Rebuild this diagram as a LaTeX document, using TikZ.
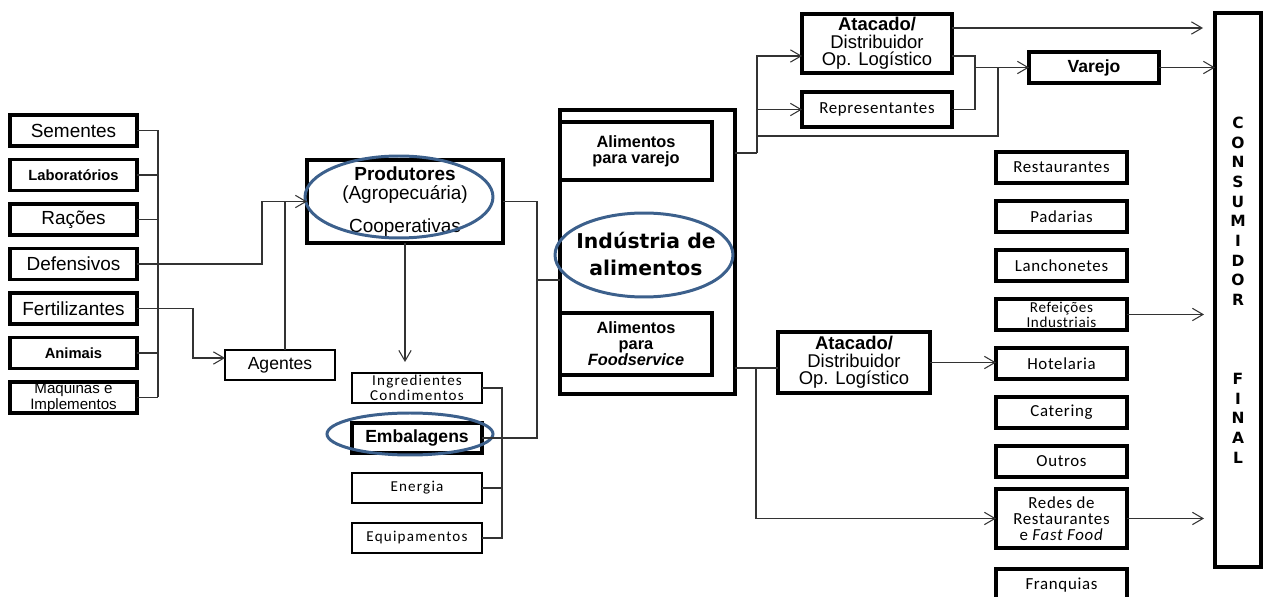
\documentclass[tikz,border=0pt]{standalone}
\usepackage{fontspec}
\setmainfont{Liberation Sans}
\newfontfamily\calfont[LetterSpace=4]{Carlito}
\newfontfamily\calwide[LetterSpace=8]{Carlito}
\newfontfamily\verdfont{DejaVu Sans}
\usetikzlibrary{positioning,arrows.meta}
\definecolor{ovalblue}{RGB}{60,96,140}
\tikzset{
    box/.style = {
        draw,
        line width=1.8pt,
        inner sep=0pt,
        outer sep=0pt,
        align=center,
        },
    thin box/.style = {
        box,
        line width=1.4pt,
        },
    wh/.style 2 args = {
        minimum width=#1*0.02cm,
        minimum height=#2*0.02cm,
        },
    link/.style = {
        draw=black!80,
        line width=0.6pt,
        },
    flow/.style = {
        link,
        -{Straight Barb[length=6pt,width=7pt]},
        },
    ring/.style = {
        draw=ovalblue,
        line width=1.7pt,
        },
    bigtxt/.style = {font=\fontsize{10.8pt}{11.3pt}\selectfont},
    boldsmall/.style = {font=\bfseries\fontsize{8.4pt}{8pt}\selectfont},
    smalltxt/.style = {font=\fontsize{8.6pt}{8pt}\selectfont},
    agtxt/.style = {font=\fontsize{10pt}{11pt}\selectfont},
    atatxt/.style = {font=\fontsize{10.5pt}{9.9pt}\selectfont},
    alimtxt/.style = {font=\bfseries\fontsize{9.3pt}{9.1pt}\selectfont},
    indtxt/.style = {font=\verdfont\bfseries\fontsize{11.6pt}{15.3pt}\selectfont, align=center},
    instxt/.style = {font=\calwide\fontsize{8.6pt}{8.5pt}\selectfont},
    coltxt/.style = {font=\calfont\fontsize{9.6pt}{9.1pt}\selectfont},
    reftxt/.style = {font=\calfont\fontsize{8.6pt}{8.5pt}\selectfont},
    constxt/.style = {font=\verdfont\bfseries\fontsize{8.8pt}{11.2pt}\selectfont},
}

\begin{document}
\begin{tikzpicture}[x=0.02cm, y=-0.02cm]
    \useasboundingbox (0,0) rectangle (1268,597);
    \clip (0,0) rectangle (1268,597);

    % insumos
    \node[box, wh={127}{31}, bigtxt] (sem) at (73.5,130.5) {Sementes};
    \node[box, wh={127}{31}, boldsmall, below=0.27cm of sem] (lab) {Laboratórios};
    \node[box, wh={127}{31}, bigtxt, below=0.27cm of lab] (rac) {Rações};
    \node[box, wh={127}{31}, bigtxt, below=0.27cm of rac] (def) {Defensivos};
    \node[box, wh={127}{31}, bigtxt, below=0.27cm of def] (fert) {Fertilizantes};
    \node[box, wh={127}{31}, boldsmall, below=0.27cm of fert] (ani) {Animais};
    \node[box, wh={127}{31}, smalltxt, below=0.27cm of ani] (maq) {Máquinas e\\Implementos};

    \node[thin box, wh={110}{30}, agtxt] (agt) at (280,365) {Agentes};
    \node[box, wh={196}{83}, bigtxt] (prod) at (405,201.5) {\textbf{Produtores}\\(Agropecuária)\\[7.4pt]Cooperativas};

    \node[thin box, wh={130}{30}, instxt] (ingr) at (417,388) {Ingredientes\\Condimentos};
    \node[box, wh={130}{30}, instxt, font=\bfseries, below=0.4cm of ingr] (emb) {Embalagens};
    \node[thin box, wh={130}{30}, instxt, below=0.4cm of emb] (ene) {Energia};
    \node[thin box, wh={130}{30}, instxt, below=0.4cm of ene] (equ) {Equipamentos};

    % industria
    \node[box, wh={175}{284}] (ind) at (647.5,252) {};
    \node[box, wh={152}{58}, alimtxt] (avar) at (636,151) {Alimentos\\para varejo};
    \node[box, wh={152}{62}, alimtxt] (afood) at (636,344) {Alimentos\\para\\\textit{Foodservice}};
    \node[indtxt] (indl) at (646,254) {Indústria de\\alimentos};

    % distribuicao
    \node[box, wh={150}{59}, atatxt] (at1) at (877,43.5) {\textbf{Atacado/}\\Distribuidor\\Op. Logístico};
    \node[box, wh={150}{35}, coltxt] (rep) at (877,109.5) {Representantes};
    \node[box, wh={130}{31}, coltxt, font=\bfseries] (var) at (1094,67.5) {Varejo};
    \node[box, wh={152}{61}, atatxt] (at2) at (854,362.5) {\textbf{Atacado/}\\Distribuidor\\Op. Logístico};

    \node[box, wh={131}{31}, coltxt] (rest) at (1061.5,167.5) {Restaurantes};
    \node[box, wh={131}{31}, coltxt, below=0.36cm of rest] (pad) {Padarias};
    \node[box, wh={131}{31}, coltxt, below=0.36cm of pad] (lan) {Lanchonetes};
    \node[box, wh={131}{31}, reftxt, below=0.36cm of lan] (ref) {Refeições\\Industriais};
    \node[box, wh={131}{31}, coltxt, below=0.36cm of ref] (hot) {Hotelaria};
    \node[box, wh={131}{31}, coltxt, below=0.36cm of hot] (cat) {Catering};
    \node[box, wh={131}{31}, coltxt, below=0.36cm of cat] (out) {Outros};
    \node[box, wh={131}{59}, coltxt, below=0.24cm of out] (redes) {Redes de\\Restaurantes\\e \textit{Fast Food}};
    \node[box, wh={131}{32}, coltxt, below=0.42cm of redes] (fra) {Franquias};

    \node[box, wh={46}{554}, constxt] (cons) at (1238,290) {C\\O\\N\\S\\U\\M\\I\\D\\O\\R\\[33.7pt]F\\I\\N\\A\\L};

    % destaques
    \draw[ring] (399,197) ellipse [x radius=1.88cm, y radius=0.82cm];
    \draw[ring] (410,434) ellipse [x radius=1.66cm, y radius=0.42cm];
    \draw[ring] (644,255) ellipse [x radius=1.78cm, y radius=0.84cm];

    % ligacoes
    \coordinate (bus) at (158,0);
    \coordinate (bus2) at (502,0);
    \coordinate (bus3) at (537,0);
    \coordinate (jind) at (537,280);
    \coordinate (tap) at (757,153);
    \coordinate (jvar) at (998,136);
    \coordinate (jrep) at (975,0);
    \coordinate (tlo) at (756,368);

    \draw[link] (sem.east) -- (sem.east -| bus) -- (maq.east -| bus);
    \draw[link] (lab.east) -- (lab.east -| bus);
    \draw[link] (rac.east) -- (rac.east -| bus);
    \draw[link] (ani.east) -- (ani.east -| bus);
    \draw[link] (maq.east) -- (maq.east -| bus);
    \draw[flow] (def.east) -- ++(125,0) |- (prod.west);
    \draw[flow] (fert.east) -- ++(56,0) |- ([yshift=0.14cm]agt.west);
    \draw[link] ([xshift=0.1cm]agt.north) -- ([xshift=0.1cm]agt.north |- prod.west);

    \draw[flow, shorten >=0.22cm] (prod.south) -- (prod.south |- ingr.north);
    \draw[link] (ingr.east) -- (ingr.east -| bus2) -- (equ.east -| bus2) -- (equ.east);
    \draw[link] (ene.east) -- (ene.east -| bus2);
    \draw[link] (emb.east) -- (emb.east -| bus3) -- (prod.east -| bus3) -- (prod.east);
    \draw[link] (jind) -- (jind -| ind.west);

    \draw[link] (tap -| ind.east) -- (tap);
    \draw[flow] (tap) |- ([yshift=-0.25cm]at1.west);
    \draw[flow] (tap) |- (rep.west);
    \draw[link] (tap |- jvar) -- (jvar) -- (jvar |- var.west);
    \draw[link] ([yshift=-0.25cm]at1.east) -| (jrep |- rep.east) -- (rep.east);
    \draw[flow] (jrep |- var.west) -- (var.west);
    \draw[flow, shorten >=0.24cm] ([yshift=0.31cm]at1.east) -- ([yshift=0.31cm]at1.east -| cons.west);
    \draw[flow] (var.east) -- (var.east -| cons.west);

    \draw[link] (tlo -| ind.east) -- (tlo) -- (tlo -| at2.west);
    \draw[flow] (tlo) |- (redes.west);
    \draw[flow] (at2.east) -- (at2.east -| hot.west);
    \draw[flow, shorten >=0.22cm] (ref.east) -- (ref.east -| cons.west);
    \draw[flow, shorten >=0.22cm] (redes.east) -- (redes.east -| cons.west);
\end{tikzpicture}
\end{document}
